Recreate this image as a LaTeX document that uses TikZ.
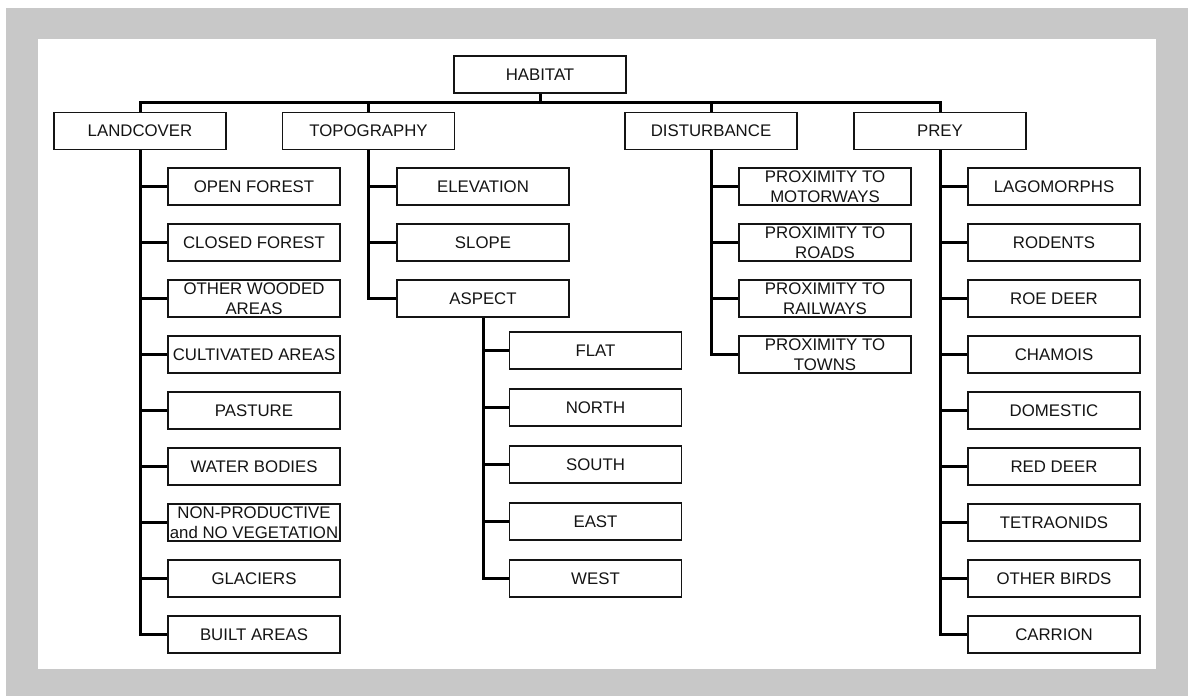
\documentclass[tikz,border=0pt]{standalone}
\usepackage{fontspec}
\setmainfont{Liberation Sans}
\definecolor{bggray}{RGB}{200,200,200}
\definecolor{ink}{RGB}{20,20,20}
\begin{document}
\begin{tikzpicture}[x=1pt,y=-1pt,
  box/.style={draw=ink,line width=1.2pt,fill=white,minimum width=172pt,minimum height=37pt,inner sep=0pt,align=center,text=ink,font=\fontsize{16.8}{20}\selectfont},
  conn/.style={draw=black,line width=3pt}]
\useasboundingbox (0,0) rectangle (1190,696);
\fill[white] (0,0) rectangle (1190,696);
\fill[bggray] (6,8) rectangle (1188,696);
\fill[white] (38,39) rectangle (1156,669);
% top level
\node[box] (habitat) at (540,74.5) {HABITAT};
\node[box] (landcover) at (140,131) {LANDCOVER};
\node[box] (topography) at (368.5,131) {TOPOGRAPHY};
\node[box] (disturbance) at (711,131) {DISTURBANCE};
\node[box] (prey) at (940,131) {PREY};
% landcover children
\node[box] (lc1) at (254,186.5) {OPEN FOREST};
\node[box] (lc2) at (254,242.5) {CLOSED FOREST};
\node[box] (lc3) at (254,298.5) {OTHER WOODED\\AREAS};
\node[box] (lc4) at (254,354.5) {CULTIVATED AREAS};
\node[box] (lc5) at (254,410.5) {PASTURE};
\node[box] (lc6) at (254,466.5) {WATER BODIES};
\node[box] (lc7) at (254,522.5) {NON-PRODUCTIVE\\and NO VEGETATION};
\node[box] (lc8) at (254,578.5) {GLACIERS};
\node[box] (lc9) at (254,634.5) {BUILT AREAS};
% topography children
\node[box] (tp1) at (483,186.5) {ELEVATION};
\node[box] (tp2) at (483,242.5) {SLOPE};
\node[box] (tp3) at (483,298.5) {ASPECT};
% aspect children
\node[box] (as1) at (595.5,350.5) {FLAT};
\node[box] (as2) at (595.5,407.5) {NORTH};
\node[box] (as3) at (595.5,464.5) {SOUTH};
\node[box] (as4) at (595.5,521.5) {EAST};
\node[box] (as5) at (595.5,578.5) {WEST};
% disturbance children
\node[box] (ds1) at (825,186.5) {PROXIMITY TO\\MOTORWAYS};
\node[box] (ds2) at (825,242.5) {PROXIMITY TO\\ROADS};
\node[box] (ds3) at (825,298.5) {PROXIMITY TO\\RAILWAYS};
\node[box] (ds4) at (825,354.5) {PROXIMITY TO\\TOWNS};
% prey children
\node[box] (pr1) at (1054,186.5) {LAGOMORPHS};
\node[box] (pr2) at (1054,242.5) {RODENTS};
\node[box] (pr3) at (1054,298.5) {ROE DEER};
\node[box] (pr4) at (1054,354.5) {CHAMOIS};
\node[box] (pr5) at (1054,410.5) {DOMESTIC};
\node[box] (pr6) at (1054,466.5) {RED DEER};
\node[box] (pr7) at (1054,522.5) {TETRAONIDS};
\node[box] (pr8) at (1054,578.5) {OTHER BIRDS};
\node[box] (pr9) at (1054,634.5) {CARRION};
% connectors: top bus
\coordinate (bus) at (540,102);
\draw[conn] (landcover.north) -- (landcover.north |- bus) -- (prey.north |- bus) -- (prey.north);
\draw[conn] (habitat.south) -- (habitat.south |- bus);
\draw[conn] (topography.north) -- (topography.north |- bus);
\draw[conn] (disturbance.north) -- (disturbance.north |- bus);
% spines
\draw[conn] (landcover.south) |- (lc9.west);
\foreach \n in {lc1,lc2,lc3,lc4,lc5,lc6,lc7,lc8}{\draw[conn] (\n.west) -- (\n.west -| landcover.south);}
\draw[conn] (topography.south) |- (tp3.west);
\foreach \n in {tp1,tp2}{\draw[conn] (\n.west) -- (\n.west -| topography.south);}
\draw[conn] (tp3.south) |- (as5.west);
\foreach \n in {as1,as2,as3,as4}{\draw[conn] (\n.west) -- (\n.west -| tp3.south);}
\draw[conn] (disturbance.south) |- (ds4.west);
\foreach \n in {ds1,ds2,ds3}{\draw[conn] (\n.west) -- (\n.west -| disturbance.south);}
\draw[conn] (prey.south) |- (pr9.west);
\foreach \n in {pr1,pr2,pr3,pr4,pr5,pr6,pr7,pr8}{\draw[conn] (\n.west) -- (\n.west -| prey.south);}
\end{tikzpicture}
\end{document}
